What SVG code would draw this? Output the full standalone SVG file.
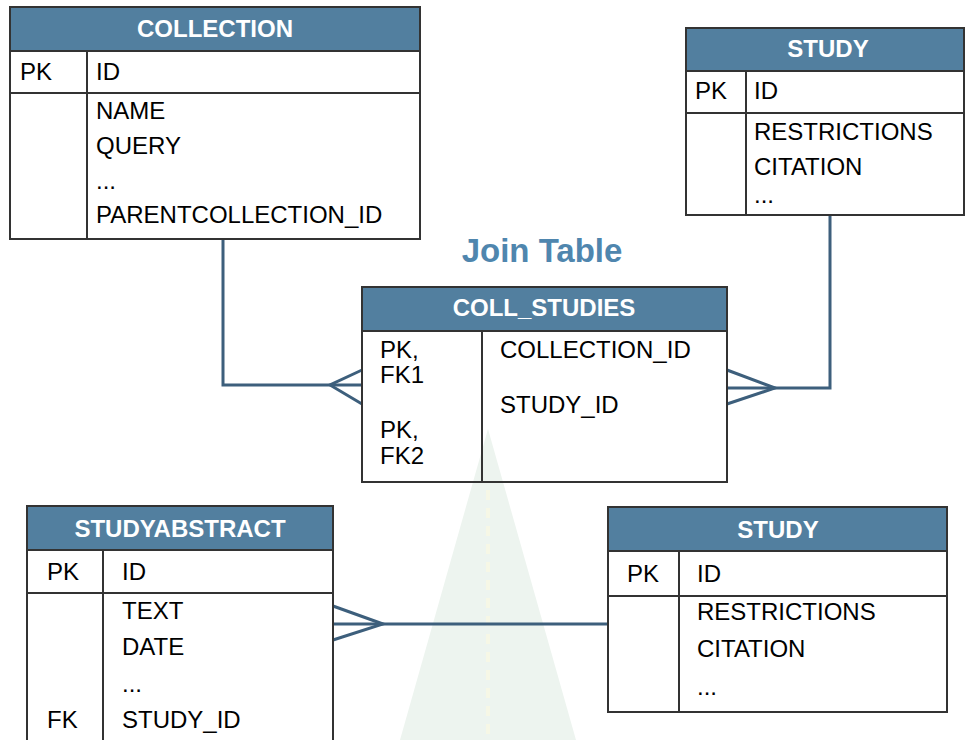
<svg xmlns="http://www.w3.org/2000/svg" width="966" height="740" viewBox="0 0 966 740">
<style>
.box{fill:#fff;stroke:#333;stroke-width:2}
.hdr{fill:#527f9f;stroke:#333;stroke-width:2}
.ln{stroke:#333;stroke-width:2;fill:none}
.ht{font-family:"Liberation Sans",Arial,sans-serif;font-size:24px;font-weight:bold;fill:#fff;text-anchor:middle}
.t{font-family:"Liberation Sans",Arial,sans-serif;font-size:24px;fill:#000}
.con{stroke:#3d5f7c;stroke-width:3;fill:none;stroke-linejoin:miter}
</style>
<rect width="966" height="740" fill="#fff"/>
<g id="watermark">
<polygon points="488,429 400,740 576,740" fill="#edf4ef"/>
<line x1="488" y1="490" x2="488" y2="740" stroke="#f6f7e6" stroke-width="4" stroke-dasharray="10,8"/>
</g>
<g id="connectors">
<path class="con" d="M223,239 V385 H362"/>
<path class="con" d="M362,370 L330,385 L362,404"/>
<path class="con" d="M830,215 V388 H727"/>
<path class="con" d="M727,370 L775,388 L727,404"/>
<path class="con" d="M333,624 H608"/>
<path class="con" d="M333,606 L383,624 L333,640"/>
</g>
<g id="collection">
<rect class="box" x="10" y="7" width="410" height="232"/>
<rect class="hdr" x="10" y="7" width="410" height="44"/>
<line class="ln" x1="10" y1="93" x2="420" y2="93"/>
<line class="ln" x1="87" y1="51" x2="87" y2="239"/>
<text class="ht" x="215" y="37">COLLECTION</text>
<text class="t" x="20" y="80">PK</text>
<text class="t" x="96" y="80">ID</text>
<text class="t" x="96" y="119">NAME</text>
<text class="t" x="96" y="154">QUERY</text>
<text class="t" x="96" y="189">...</text>
<text class="t" x="96" y="223">PARENTCOLLECTION_ID</text>
</g>
<g id="study-top">
<rect class="box" x="686" y="28" width="278" height="187"/>
<rect class="hdr" x="686" y="28" width="278" height="43"/>
<line class="ln" x1="686" y1="113" x2="964" y2="113"/>
<line class="ln" x1="746" y1="71" x2="746" y2="215"/>
<text class="ht" x="828" y="57">STUDY</text>
<text class="t" x="695" y="99">PK</text>
<text class="t" x="754" y="99">ID</text>
<text class="t" x="754" y="140">RESTRICTIONS</text>
<text class="t" x="754" y="175">CITATION</text>
<text class="t" x="754" y="203">...</text>
</g>
<text id="join-label" x="542" y="262" font-family="'Liberation Sans',Arial,sans-serif" font-size="33" font-weight="bold" fill="#4f86ae" text-anchor="middle">Join Table</text>
<g id="coll-studies">
<rect class="box" x="362" y="287" width="365" height="195" fill-opacity="0"/>
<rect class="hdr" x="362" y="287" width="365" height="44"/>
<line class="ln" x1="482" y1="331" x2="482" y2="482"/>
<text class="ht" x="544" y="316">COLL_STUDIES</text>
<text class="t" x="380" y="358">PK,</text>
<text class="t" x="380" y="383">FK1</text>
<text class="t" x="380" y="438">PK,</text>
<text class="t" x="380" y="464">FK2</text>
<text class="t" x="500" y="358">COLLECTION_ID</text>
<text class="t" x="500" y="413">STUDY_ID</text>
</g>
<g id="studyabstract">
<rect class="box" x="27" y="506" width="306" height="260"/>
<rect class="hdr" x="27" y="506" width="306" height="44"/>
<line class="ln" x1="27" y1="593" x2="333" y2="593"/>
<line class="ln" x1="103" y1="550" x2="103" y2="766"/>
<text class="ht" x="180" y="537">STUDYABSTRACT</text>
<text class="t" x="47" y="580">PK</text>
<text class="t" x="122" y="580">ID</text>
<text class="t" x="122" y="619">TEXT</text>
<text class="t" x="122" y="655">DATE</text>
<text class="t" x="122" y="692">...</text>
<text class="t" x="47" y="728">FK</text>
<text class="t" x="122" y="728">STUDY_ID</text>
</g>
<g id="study-bottom">
<rect class="box" x="608" y="507" width="339" height="205"/>
<rect class="hdr" x="608" y="507" width="339" height="44"/>
<line class="ln" x1="608" y1="596" x2="947" y2="596"/>
<line class="ln" x1="679" y1="551" x2="679" y2="712"/>
<text class="ht" x="778" y="538">STUDY</text>
<text class="t" x="627" y="582">PK</text>
<text class="t" x="697" y="582">ID</text>
<text class="t" x="697" y="620">RESTRICTIONS</text>
<text class="t" x="697" y="657">CITATION</text>
<text class="t" x="697" y="695">...</text>
</g>
</svg>
